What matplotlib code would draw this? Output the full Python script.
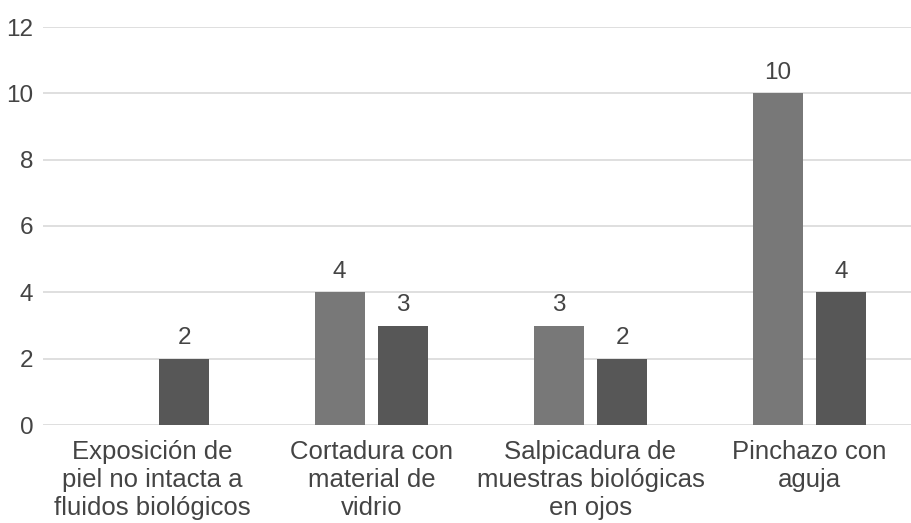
import numpy as np
import matplotlib
matplotlib.use("Agg")
import matplotlib.pyplot as plt

plt.rcParams['font.family'] = ['Liberation Sans', 'DejaVu Sans']

categories = ["Exposición de\npiel no intacta a\nfluidos biológicos",
              "Cortadura con\nmaterial de\nvidrio",
              "Salpicadura de\nmuestras biológicas\nen ojos",
              "Pinchazo con\naguja"]
serie_a = [0, 4, 3, 10]
serie_b = [2, 3, 2, 4]
yticks = [0, 2, 4, 6, 8, 10, 12]

color_a = '#787878'
color_b = '#575757'
text_color = '#444444'

fig = plt.figure(figsize=(9.11, 5.23), dpi=100)
ax = fig.add_axes([43 / 911, 98 / 523, 876 / 911, 398 / 523])

x = np.arange(len(categories))
w = 0.23
off = 0.145

bars_a = ax.bar(x - off, serie_a, w, color=color_a, zorder=3)
bars_b = ax.bar(x + off, serie_b, w, color=color_b, zorder=3)

# value labels, skip empty bars
for bars, vals in ((bars_a, serie_a), (bars_b, serie_b)):
    for b, v in zip(bars, vals):
        if v == 0:
            continue
        ax.annotate(str(v), (b.get_x() + b.get_width() / 2, v),
                    xytext=(0, 7), textcoords='offset points',
                    ha='center', va='bottom', fontsize=17.5, color=text_color)

ax.set_xlim(-0.5, 3.5)
ax.set_ylim(0, 12)
ax.set_yticks(yticks)
ax.set_xticks(x)
ax.set_xticklabels(categories, fontsize=18.5, color=text_color, linespacing=1.2)
ax.tick_params(axis='y', labelsize=17.5, labelcolor=text_color, length=0, pad=7)
ax.tick_params(axis='x', length=0, pad=11)

ax.grid(axis='y', color='#d9d9d9', linewidth=1.2, zorder=0)
for s in ax.spines.values():
    s.set_visible(False)

fig.savefig('out.png', dpi=100)
